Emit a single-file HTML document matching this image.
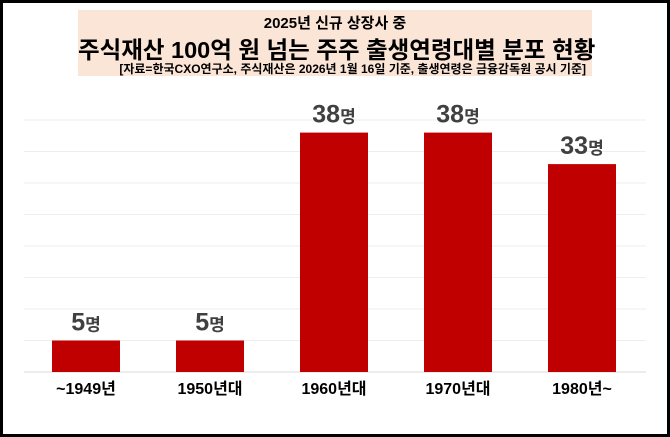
<!DOCTYPE html>
<html><head><meta charset="utf-8"><style>
body{margin:0;width:670px;height:437px;overflow:hidden;background:#fff;font-family:"Liberation Sans","Noto Sans CJK KR",sans-serif}
#frame{position:absolute;left:0;top:0;width:664px;height:431px;border:3px solid #000;box-sizing:content-box}
#title{position:absolute;left:78px;top:10px;width:514px;height:66px;background:#fbe5d6}
.t{position:absolute;left:0;width:100%;text-align:center;font-weight:bold;color:#000;white-space:nowrap}
</style></head><body>
<div id="frame"></div>
<div id="title">
<div class="t" style="top:2px;font-size:15px">2025년 신규 상장사 중</div>
<div class="t" style="top:21px;font-size:23.5px">주식재산 100억 원 넘는 주주 출생연령대별 분포 현황</div>
<div class="t" style="top:50px;font-size:12px;text-align:right;width:508px">[자료=한국CXO연구소, 주식재산은 2026년 1월 16일 기준, 출생연령은 금융감독원 공시 기준]</div>
</div>
<svg id="chart" width="670" height="437" style="position:absolute;left:0;top:0"></svg>
<script>
const categories=["~1949년","1950년대","1960년대","1970년대","1980년~"];
const values=[5,5,38,38,33];
const gridTicks=[0,5,10,15,20,25,30,35,40];
const svg=document.getElementById('chart');
const NS='http://www.w3.org/2000/svg';
const y=v=>372-v*(252/40);
const xc=i=>86+i*124;
function mk(t,a){const e=document.createElementNS(NS,t);for(const k in a)e.setAttribute(k,a[k]);svg.appendChild(e);return e;}
gridTicks.forEach(g=>{const l=mk('line',{x1:24,x2:646,y1:y(g),y2:y(g),stroke:g===0?'#d9d9d9':'#eeeeee','stroke-width':1});

});
values.forEach((v,i)=>{
const r=mk('rect',{x:xc(i)-34,y:y(v),width:68,height:y(0)-y(v),fill:'#c00000'});


const t=mk('text',{x:xc(i),y:y(v)-10,'text-anchor':'middle','font-weight':'bold',fill:'#404040','font-size':25});


t.innerHTML=v+'<tspan font-size="17">명</tspan>';
const c=mk('text',{x:xc(i),y:394,'text-anchor':'middle','font-weight':'bold',fill:'#000','font-size':16});


c.textContent=categories[i];
});
</script>
</body></html>
